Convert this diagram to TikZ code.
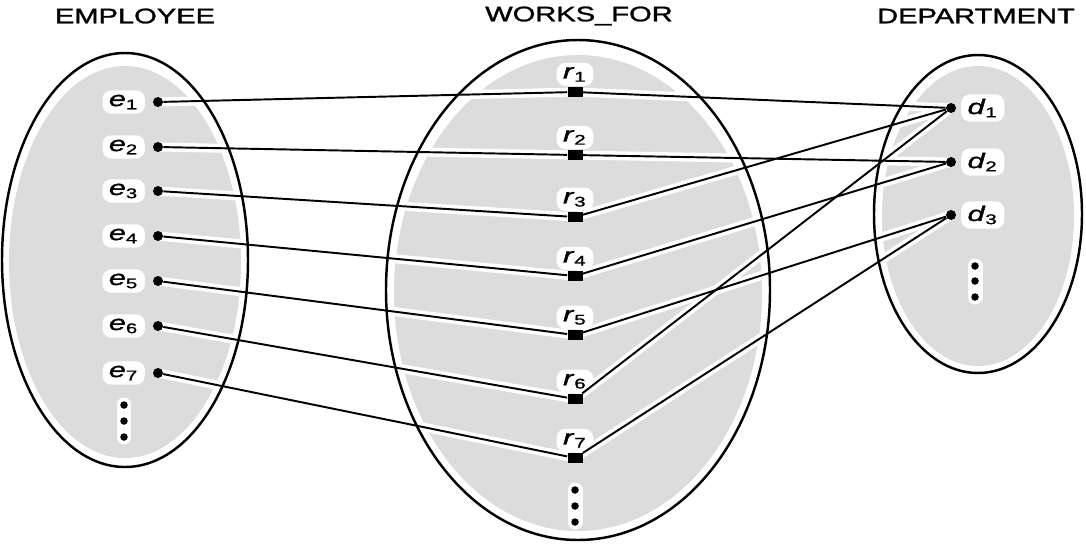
\documentclass[tikz,border=0pt]{standalone}
\usepackage{fontspec}
\setmainfont[FakeBold=1.2]{Liberation Sans}
\usetikzlibrary{positioning,backgrounds}
\definecolor{setgray}{HTML}{DCDCDC}

\begin{document}
\begin{tikzpicture}[
  x=0.02cm,y=-0.02cm,
  member/.style={circle,fill=black,inner sep=0pt,minimum size=0.2cm},
  pair/.style={rectangle,fill=black,inner sep=0pt,minimum width=0.3cm,minimum height=0.21cm},
  more/.style={circle,fill=black,inner sep=0pt,minimum size=0.15cm},
  lbl/.style={font=\fontsize{12}{14}\selectfont,xscale=1.45,fill=white,rounded corners=5pt,inner sep=2.5pt},
  title/.style={font=\fontsize{12}{14}\selectfont,xscale=1.38,inner sep=0pt},
  link/.style={line width=1.1pt},
  halo/.style={white,line width=0.18cm,line cap=round},
  setline/.style={draw=black,line width=1.4pt}
]
\useasboundingbox (0,0) rectangle (1086,545);

% titles
\node[title] (empT) at (135,16) {EMPLOYEE};
\node[title] (worksT) at (579,16) {WORKS\_FOR};
\node[title] (deptT) at (976,16) {DEPARTMENT};

% entity and relationship instances
\foreach \i/\y in {1/102,2/147,3/191,4/236,5/281,6/326,7/373}
  \node[member,label={[lbl,label distance=0.1cm]left:\textit{e}\textsubscript{\i}}] (e\i) at (158,\y) {};
\foreach \i/\y in {1/92,2/155,3/217,4/276,5/335,6/399,7/458}
  \node[pair,label={[lbl,label distance=0cm]above:\textit{r}\textsubscript{\i}}] (r\i) at (575,\y) {};
\foreach \i/\y in {1/108,2/162,3/215}
  \node[member,label={[lbl,label distance=0.06cm]right:\textit{d}\textsubscript{\i}}] (d\i) at (951,\y) {};

\foreach \i/\y in {1/405,2/421,3/437} \node[more] (ev\i) at (124,\y) {};
\foreach \i/\y in {1/490,2/506,3/522} \node[more] (rv\i) at (575,\y) {};
\foreach \i/\y in {1/266,2/281,3/297} \node[more] (dv\i) at (975,\y) {};

% connectors
\foreach \i in {1,...,7} \draw[link] (e\i) -- (r\i);
\foreach \r/\d in {1/1,2/2,3/1,4/2,5/3,6/1,7/3} \draw[link] (r\r) -- (d\d);

\begin{pgfonlayer}{background}
  \fill[white] (0,0) rectangle (1086,545);
  \begin{scope}
    \clip (125,262) ellipse [x radius=116,y radius=196]
          (578,293) ellipse [x radius=184,y radius=238]
          (978,216) ellipse [x radius=96,y radius=150];
    \fill[setgray] (0,0) rectangle (1086,545);
    \foreach \i in {1,...,7} \draw[halo] (e\i.center) -- (r\i.center);
    \foreach \r/\d in {1/1,2/2,3/1,4/2,5/3,6/1,7/3} \draw[halo] (r\r.center) -- (d\d.center);
    \draw[halo,line width=0.3cm] (ev1.center) -- (ev3.center);
    \draw[halo,line width=0.3cm] (rv1.center) -- (rv3.center);
    \draw[halo,line width=0.3cm] (dv1.center) -- (dv3.center);
  \end{scope}
  \draw[setline] (125,260) ellipse [x radius=123,y radius=207];
  \draw[setline] (578,290) ellipse [x radius=192,y radius=250];
  \draw[setline] (978,214) ellipse [x radius=104,y radius=159];
\end{pgfonlayer}
\end{tikzpicture}
\end{document}
